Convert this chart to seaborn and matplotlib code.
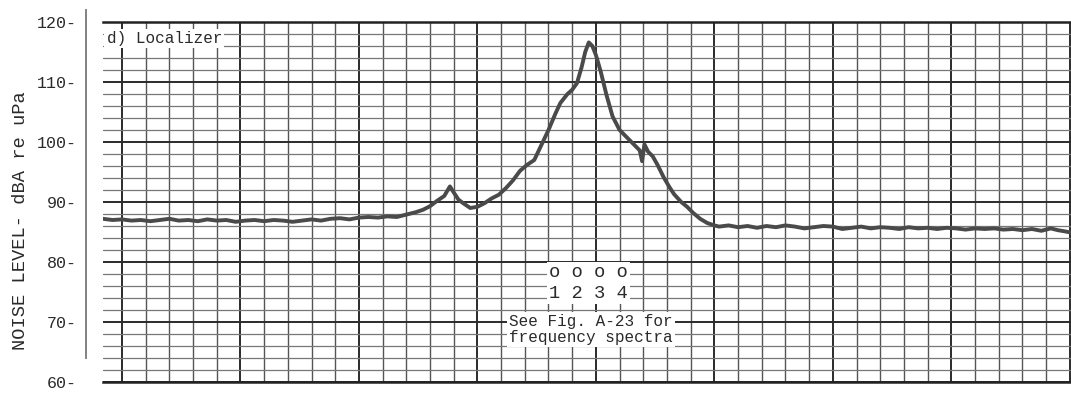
import numpy as np
import pandas as pd
import matplotlib
matplotlib.use("Agg")
import matplotlib.pyplot as plt
from matplotlib.ticker import MultipleLocator
import seaborn as sns

# ---- data (chart time units vs. noise level, dBA re uPa) ----
time_units = [
    -0.8, -0.4, 0.0, 0.4, 0.8, 1.2, 1.6, 2.0, 2.4, 2.8, 3.2, 3.6, 4.0, 4.4, 4.8,
    5.2, 5.6, 6.0, 6.4, 6.8, 7.2, 7.6, 8.0, 8.4, 8.8, 9.2, 9.6, 10.0, 10.4, 10.8,
    11.2, 11.6, 12.0, 12.4, 12.7, 13.0, 13.3, 13.6, 13.84, 14.0, 14.2, 14.4, 14.7,
    15.0, 15.3, 15.6, 15.9, 16.2, 16.5, 16.8, 17.1, 17.4, 17.7, 18.0, 18.3, 18.5,
    18.8, 19.0, 19.2, 19.4, 19.55, 19.7, 19.85, 20.0, 20.2, 20.45, 20.7, 21.0,
    21.3, 21.6, 21.85, 21.95, 22.05, 22.2, 22.4, 22.6, 22.85, 23.1, 23.3, 23.6,
    23.85, 24.1, 24.4, 24.7, 25.0, 25.2, 25.6, 26.0, 26.4, 26.8, 27.2, 27.6, 28.0,
    28.4, 28.8, 29.2, 29.6, 30.0, 30.4, 30.8, 31.2, 31.6, 32.0, 32.4, 32.8, 33.2,
    33.6, 34.0, 34.4, 34.8, 35.2, 35.6, 36.0, 36.4, 36.8, 37.2, 37.6, 38.0, 38.4,
    38.8, 39.2, 39.5, 39.8, 40.05,
]
noise_level = [
    87.2, 87.0, 87.1, 86.9, 87.0, 86.8, 87.0, 87.2, 86.9, 87.0, 86.8, 87.1, 86.9, 87.0, 86.7,
    86.9, 87.0, 86.8, 87.0, 86.9, 86.7, 86.9, 87.1, 86.9, 87.2, 87.3, 87.1, 87.4, 87.5, 87.4,
    87.6, 87.5, 87.9, 88.3, 88.7, 89.3, 90.2, 91.0, 92.6, 91.6, 90.4, 89.8, 89.0,
    89.2, 89.8, 90.6, 91.2, 92.3, 93.6, 95.2, 96.2, 97.0, 99.5, 102.0, 104.8, 106.5,
    108.0, 108.7, 109.8, 112.5, 115.0, 116.6, 116.0, 114.5, 111.8, 107.8, 104.3, 102.0,
    100.8, 99.6, 98.6, 96.8, 99.6, 98.4, 97.6, 96.2, 94.2, 92.5, 91.3, 90.0,
    89.2, 88.2, 87.2, 86.5, 86.1, 85.9, 86.1, 85.8, 86.0, 85.7, 86.0, 85.8, 86.1,
    85.9, 85.6, 85.8, 86.0, 85.9, 85.5, 85.7, 85.9, 85.6, 85.8, 85.7, 85.5, 85.8,
    85.6, 85.7, 85.5, 85.7, 85.6, 85.4, 85.6, 85.5, 85.6, 85.4, 85.5, 85.3, 85.5,
    85.2, 85.6, 85.3, 85.1, 84.9,
]
ytick_values = [60, 70, 80, 90, 100, 110, 120]
ytick_labels = [f"{v}-" for v in ytick_values]
panel_title = "d) Localizer"
position_marks = "o o o o"
position_numbers = "1 2 3 4"
note_text = "See Fig. A-23 for\nfrequency spectra"
y_label = "NOISE LEVEL- dBA re uPa"

df = pd.DataFrame({"t": time_units, "level": noise_level})

sns.set_theme(style="white")
mono = ["Liberation Mono", "DejaVu Sans Mono"]
plt.rcParams["font.family"] = mono

fig = plt.figure(figsize=(10.71, 4.0), dpi=100)
ax = fig.add_axes([103 / 1071, 1 - 382 / 400, 968 / 1071, 360 / 400])

ax.set_xlim(-0.8, 40.05)
ax.set_ylim(60, 120)

# grid paper
ax.xaxis.set_major_locator(MultipleLocator(5))
ax.xaxis.set_minor_locator(MultipleLocator(1))
ax.yaxis.set_minor_locator(MultipleLocator(2))
ax.set_yticks(ytick_values)
ax.set_yticklabels(ytick_labels)
ax.grid(which="major", axis="x", color="#2b2b2b", lw=1.4)
ax.grid(which="minor", axis="x", color="#555555", lw=1.0)
ax.grid(which="major", axis="y", color="#2b2b2b", lw=1.4)
ax.grid(which="minor", axis="y", color="#777777", lw=0.9)
ax.set_axisbelow(True)

sns.lineplot(data=df, x="t", y="level", ax=ax, color="#4a4a4a", lw=2.8,
             estimator=None, sort=False, zorder=3)

ax.set_xticklabels([])
ax.set_xlabel("")
ax.tick_params(axis="x", which="both", length=0)
ax.tick_params(axis="y", which="both", length=0, pad=7, labelsize=12,
               colors="#2a2a2a")

ax.spines["right"].set_visible(False)
ax.spines["top"].set_color("#222222")
ax.spines["top"].set_linewidth(1.8)
ax.spines["bottom"].set_color("#222222")
ax.spines["bottom"].set_linewidth(1.8)
ax.spines["left"].set_position(("outward", 12))
ax.spines["left"].set_bounds(64, 122)
ax.spines["left"].set_color("#777777")
ax.spines["left"].set_linewidth(1.3)

ax.set_ylabel(y_label, fontsize=13.5, color="#2a2a2a")
ax.yaxis.set_label_coords((29 - 103) / 968, 0.447)

box = dict(facecolor="white", edgecolor="none", pad=1.5)
ax.text(-0.65, 117.2, panel_title, fontsize=11.5, ha="left", va="center",
        color="#2a2a2a", bbox=box, zorder=4)
ax.text(19.7, 78.2, position_marks, fontsize=13.5, ha="center", va="center",
        color="#2a2a2a", bbox=box, zorder=4)
ax.text(19.7, 74.8, position_numbers, fontsize=13.5, ha="center", va="center",
        color="#2a2a2a", bbox=box, zorder=4)
ax.text(19.8, 68.8, note_text, fontsize=11.5, ha="center", va="center",
        linespacing=1.05, color="#2a2a2a", bbox=box, zorder=4)

fig.savefig("out.png", dpi=100, facecolor="white")
